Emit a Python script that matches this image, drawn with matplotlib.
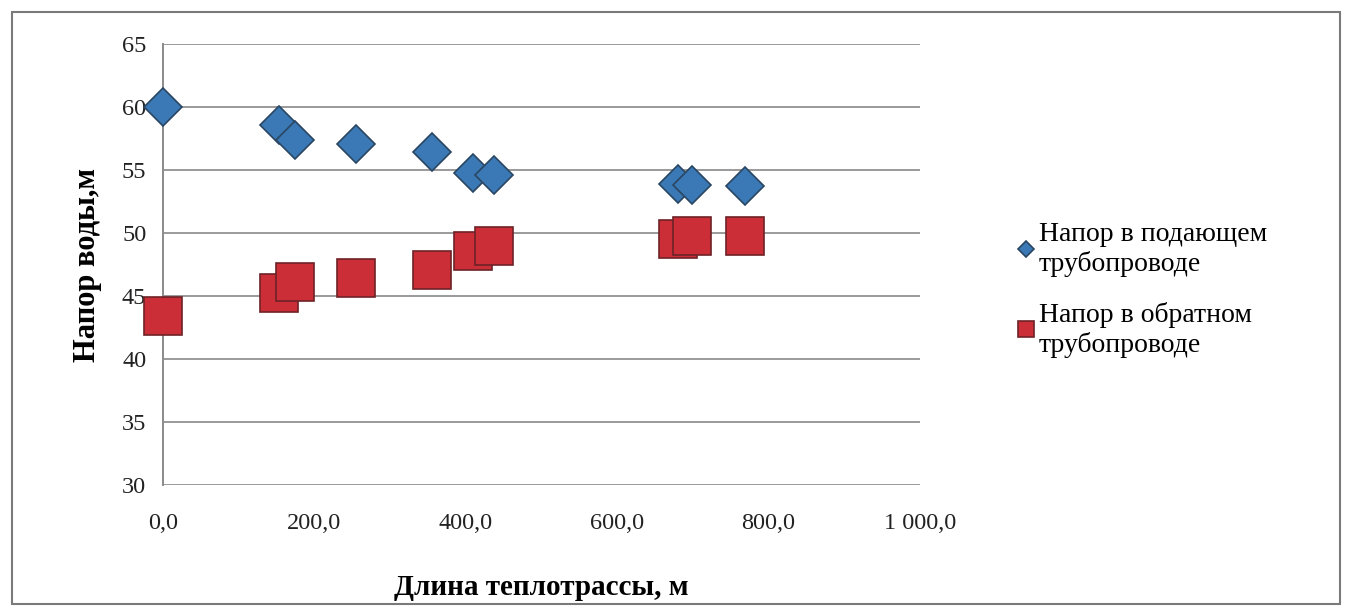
import matplotlib
matplotlib.use("Agg")
import matplotlib.pyplot as plt
from matplotlib.patches import Rectangle
from matplotlib.ticker import FuncFormatter, MultipleLocator

plt.rcParams['font.family'] = ['Liberation Serif', 'DejaVu Serif']

length = [0, 153, 175, 255, 355, 410, 437, 680, 699, 769]
supply = [60.0, 58.6, 57.4, 57.1, 56.4, 54.8, 54.6, 53.9, 53.8, 53.7]
ret = [43.4, 45.2, 46.1, 46.4, 47.1, 48.6, 49.0, 49.5, 49.8, 49.8]
series_labels = ["Напор в подающем\nтрубопроводе", "Напор в обратном\nтрубопроводе"]
xlabel = "Длина теплотрассы, м"
ylabel = "Напор воды,м"

W, H = 1346, 610
fig = plt.figure(figsize=(W / 100, H / 100), dpi=100)
fig.patch.set_facecolor('white')
fig.add_artist(Rectangle((12 / W, 6 / H), 1328 / W, 592 / H, transform=fig.transFigure,
                         fill=False, edgecolor='#7a7a7a', linewidth=1.5))

ax = fig.add_axes([163 / W, 1 - 485 / H, (920 - 163) / W, (485 - 44) / H])
ax.set_xlim(0, 1000)
ax.set_ylim(30, 65)
ax.yaxis.set_major_locator(MultipleLocator(5))
ax.xaxis.set_major_locator(MultipleLocator(200))
ax.xaxis.set_major_formatter(FuncFormatter(
    lambda v, p: ("{:,.1f}".format(v)).replace(",", " ").replace(".", ",")))
ax.grid(axis='y', color='#9a9a9a', linewidth=1.4)
ax.set_axisbelow(True)
for s in ['top', 'right', 'bottom']:
    ax.spines[s].set_visible(False)
ax.spines['left'].set_color('#8a8a8a')
ax.spines['left'].set_linewidth(1.4)
ax.tick_params(axis='both', length=0, labelsize=17.5, colors='#222222')
ax.tick_params(axis='y', pad=12)
ax.tick_params(axis='x', pad=20)

ax.plot(length, supply, linestyle='none', marker='D', markersize=19,
        markerfacecolor='#3b79b6', markeredgecolor='#2a4663', markeredgewidth=1.2,
        label=series_labels[0], clip_on=False, zorder=3)
ax.plot(length, ret, linestyle='none', marker='s', markersize=27,
        markerfacecolor='#cc2e38', markeredgecolor='#6e2228', markeredgewidth=1.2,
        label=series_labels[1], clip_on=False, zorder=3)

ax.set_xlabel(xlabel, fontsize=21, fontweight='bold', labelpad=29)
ax.set_ylabel(ylabel, fontsize=22, fontweight='bold', labelpad=14)

leg = ax.legend(loc='upper left', bbox_to_anchor=(1008 / W, 1 - 211 / H),
                bbox_transform=fig.transFigure, frameon=False, fontsize=20,
                markerscale=0.45, handlelength=0.5, handletextpad=0.2,
                labelspacing=0.88, borderaxespad=0)
for t in leg.get_texts():
    t.set_linespacing(1.2)

fig.savefig("out.png", dpi=100)
